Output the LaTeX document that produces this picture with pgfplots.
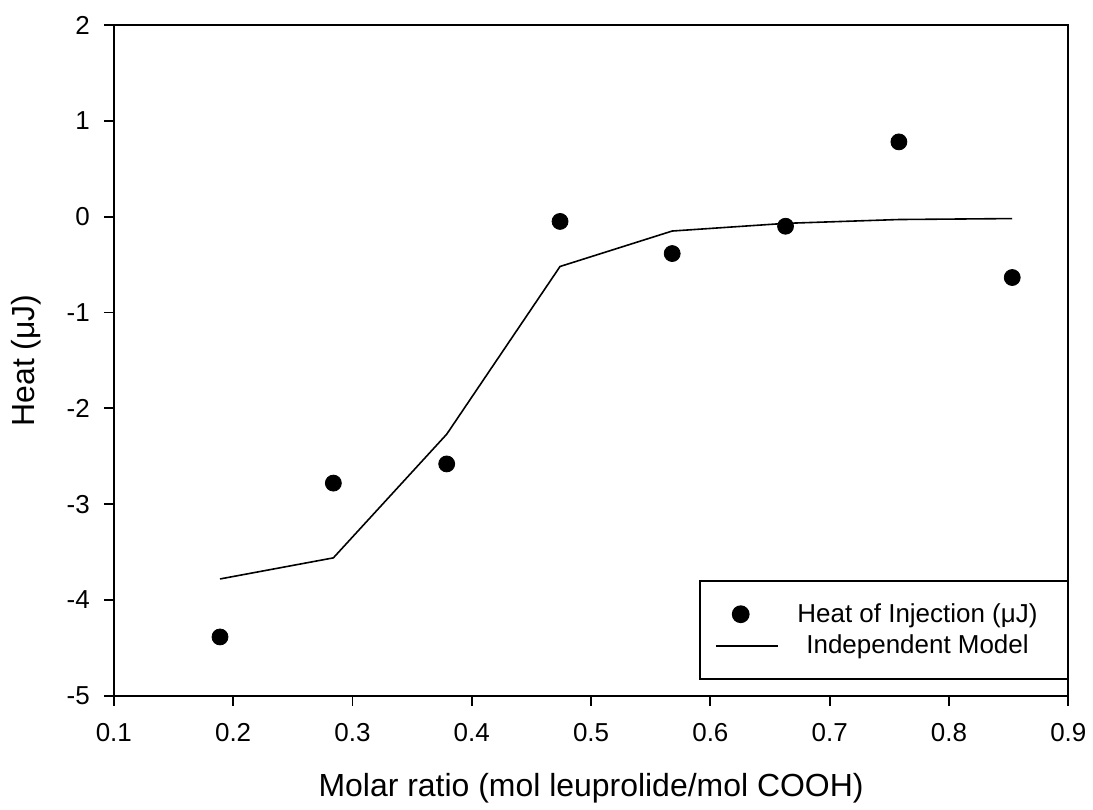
\documentclass[border=0pt]{standalone}
\usepackage{pgfplots}
\pgfplotsset{compat=1.18}
\usepackage{fontspec}
\setmainfont{Liberation Sans}
\pgfplotsset{
  legdot/.style={legend image code/.code={\draw[##1] plot coordinates {(12.5pt,0cm)};}},
  legline/.style={legend image code/.code={\draw[##1] (0cm,0cm) -- (31pt,0cm);}},
}
\begin{document}
\begin{tikzpicture}
\begin{axis}[
  width=478pt, height=336pt, scale only axis,
  xmin=0.1, xmax=0.9, ymin=-5, ymax=2,
  xtick={0.1,0.2,...,0.9}, ytick={-5,-4,...,2},
  xticklabel style={/pgf/number format/.cd,fixed,fixed zerofill,precision=1},
  /pgf/number format/assume math mode=true,
  tick align=outside, tick pos=left,
  major tick length=5pt,
  xticklabel shift=5pt, yticklabel shift=3.5pt,
  axis line style={line width=0.9pt},
  every tick/.style={black, line width=0.9pt},
  ticklabel style={font=\fontsize{13}{15}\selectfont},
  label style={font=\fontsize{16}{18}\selectfont},
  xlabel={Molar ratio (mol leuprolide/mol COOH)},
  ylabel={Heat (μJ)},
  xlabel style={yshift=-9pt},
  ylabel shift=6pt,
  legend style={at={(1,0.024)}, anchor=south east, draw=black, line width=0.9pt,
    font=\fontsize{13}{15}\selectfont, inner xsep=7.5pt, inner ysep=9pt,
    row sep=1pt, cells={anchor=west}},
  legend cell align=left,
]
\addplot[only marks, mark=*, mark size=4pt, black, legdot] coordinates {
 (0.189,-4.385) (0.284,-2.78) (0.379,-2.58) (0.474,-0.05)
 (0.568,-0.385) (0.663,-0.10) (0.758,0.78) (0.853,-0.635)
};
\addlegendentry{\hspace{7.5pt}Heat of Injection (μJ)\rule{5.5pt}{0pt}}
\addplot[black, line width=0.8pt, legline] coordinates {
 (0.189,-3.78) (0.284,-3.56) (0.379,-2.27) (0.474,-0.52)
 (0.568,-0.15) (0.663,-0.07) (0.758,-0.03) (0.853,-0.02)
};
\addlegendentry{\hspace{12pt}Independent Model}
\end{axis}
\path ([shift={(-57pt,-55pt)}]current axis.south west) rectangle ([shift={(11.5pt,12.5pt)}]current axis.north east);
\end{tikzpicture}
\end{document}
